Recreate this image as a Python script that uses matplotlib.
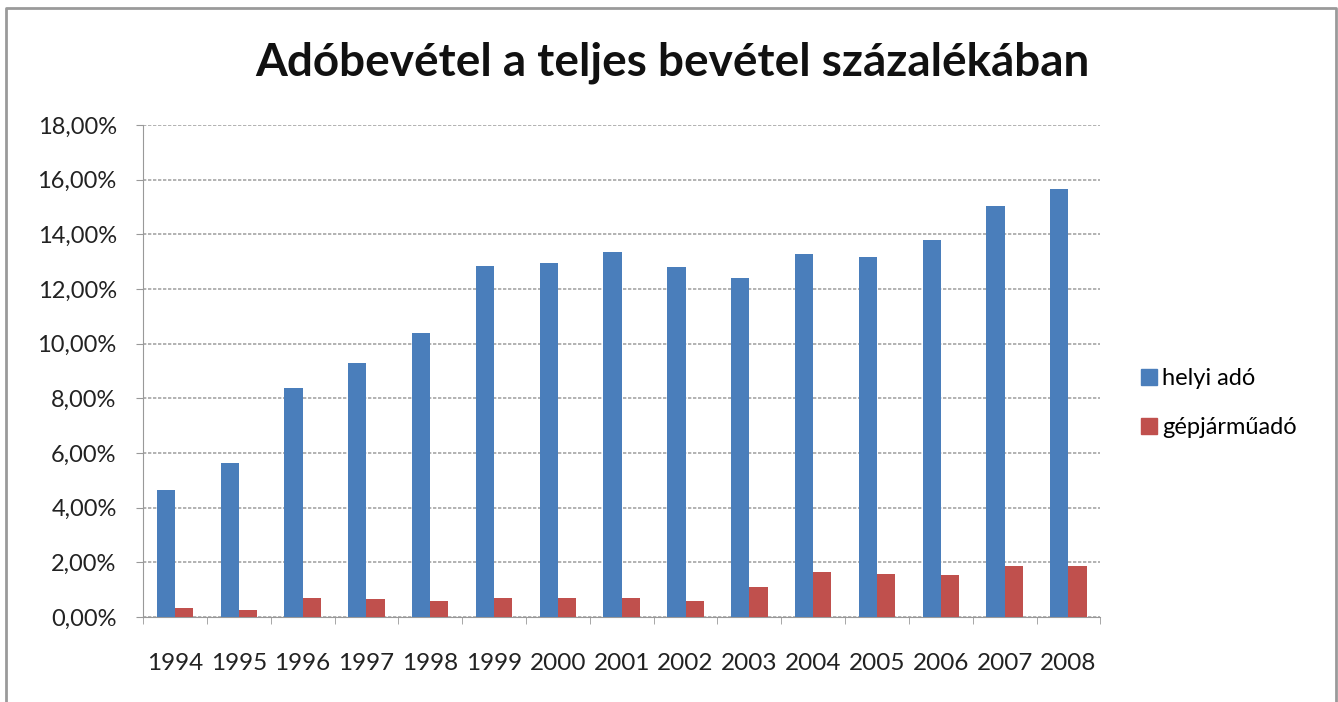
import numpy as np
import matplotlib
matplotlib.use('agg')
import matplotlib.pyplot as plt
from matplotlib.lines import Line2D
from matplotlib.ticker import FuncFormatter, MultipleLocator

years = ['1994', '1995', '1996', '1997', '1998', '1999', '2000', '2001',
         '2002', '2003', '2004', '2005', '2006', '2007', '2008']
helyi_ado = [4.64, 5.63, 8.37, 9.29, 10.38, 12.83, 12.94, 13.35,
             12.80, 12.40, 13.27, 13.16, 13.78, 15.03, 15.65]
gepjarmuado = [0.33, 0.27, 0.69, 0.64, 0.60, 0.69, 0.69, 0.69,
               0.60, 1.10, 1.63, 1.58, 1.52, 1.85, 1.85]
series_names = ['helyi adó', 'gépjárműadó']
colors = ['#4a7ebb', '#c0504d']

plt.rcParams['font.family'] = ['Lato', 'DejaVu Sans']

fig = plt.figure(figsize=(13.38, 7.02), dpi=100)
ax = fig.add_axes([0.1069, 0.1211, 0.7155, 0.7009])

x = np.arange(len(years))
w = 0.286
ax.bar(x - w / 2, helyi_ado, w, color=colors[0], zorder=3, label=series_names[0])
ax.bar(x + w / 2, gepjarmuado, w, color=colors[1], zorder=3, label=series_names[1])

ax.set_xlim(-0.5, len(years) - 0.5)
ax.set_ylim(0, 18)
ax.yaxis.set_major_locator(MultipleLocator(2))
ax.yaxis.set_major_formatter(FuncFormatter(lambda v, p: ('%.2f%%' % v).replace('.', ',')))
ax.set_xticks(x)
ax.set_xticklabels(years)
ax.set_xticks(np.arange(-0.5, len(years), 1), minor=True)
ax.tick_params(axis='x', which='major', length=0, pad=26, labelsize=17.5, colors='#222222')
ax.tick_params(axis='x', which='minor', length=5, color='#999999')
ax.tick_params(axis='y', length=5, color='#999999', labelsize=17, labelcolor='#222222', pad=14)

ax.grid(axis='y', color='#a6a6a6', linestyle=(0, (2, 1)), linewidth=1.2, zorder=0)
for s in ['top', 'right']:
    ax.spines[s].set_visible(False)
ax.spines['left'].set_color('#999999')
ax.spines['bottom'].set_color('#999999')

fig.text(0.5025, 0.91, 'Adóbevétel a teljes bevétel százalékában', ha='center', va='center',
         fontsize=33, fontweight='bold', color='#111111')

handles = [Line2D([], [], marker='s', linestyle='none', markersize=12,
                  markerfacecolor=c, markeredgecolor=c) for c in colors]
fig.legend(handles, series_names, loc='center left', bbox_to_anchor=(0.834, 0.426),
           frameon=False, fontsize=17, handletextpad=0.05, labelspacing=1.2,
           handlelength=1.0)

# outer chart border
fig.add_artist(Line2D([0.0045, 0.0045, 0.9985, 0.9985], [0.0, 0.9886, 0.9886, 0.0],
                      transform=fig.transFigure, color='#9a9a9a', linewidth=2))

fig.savefig('out.png', dpi=100)
